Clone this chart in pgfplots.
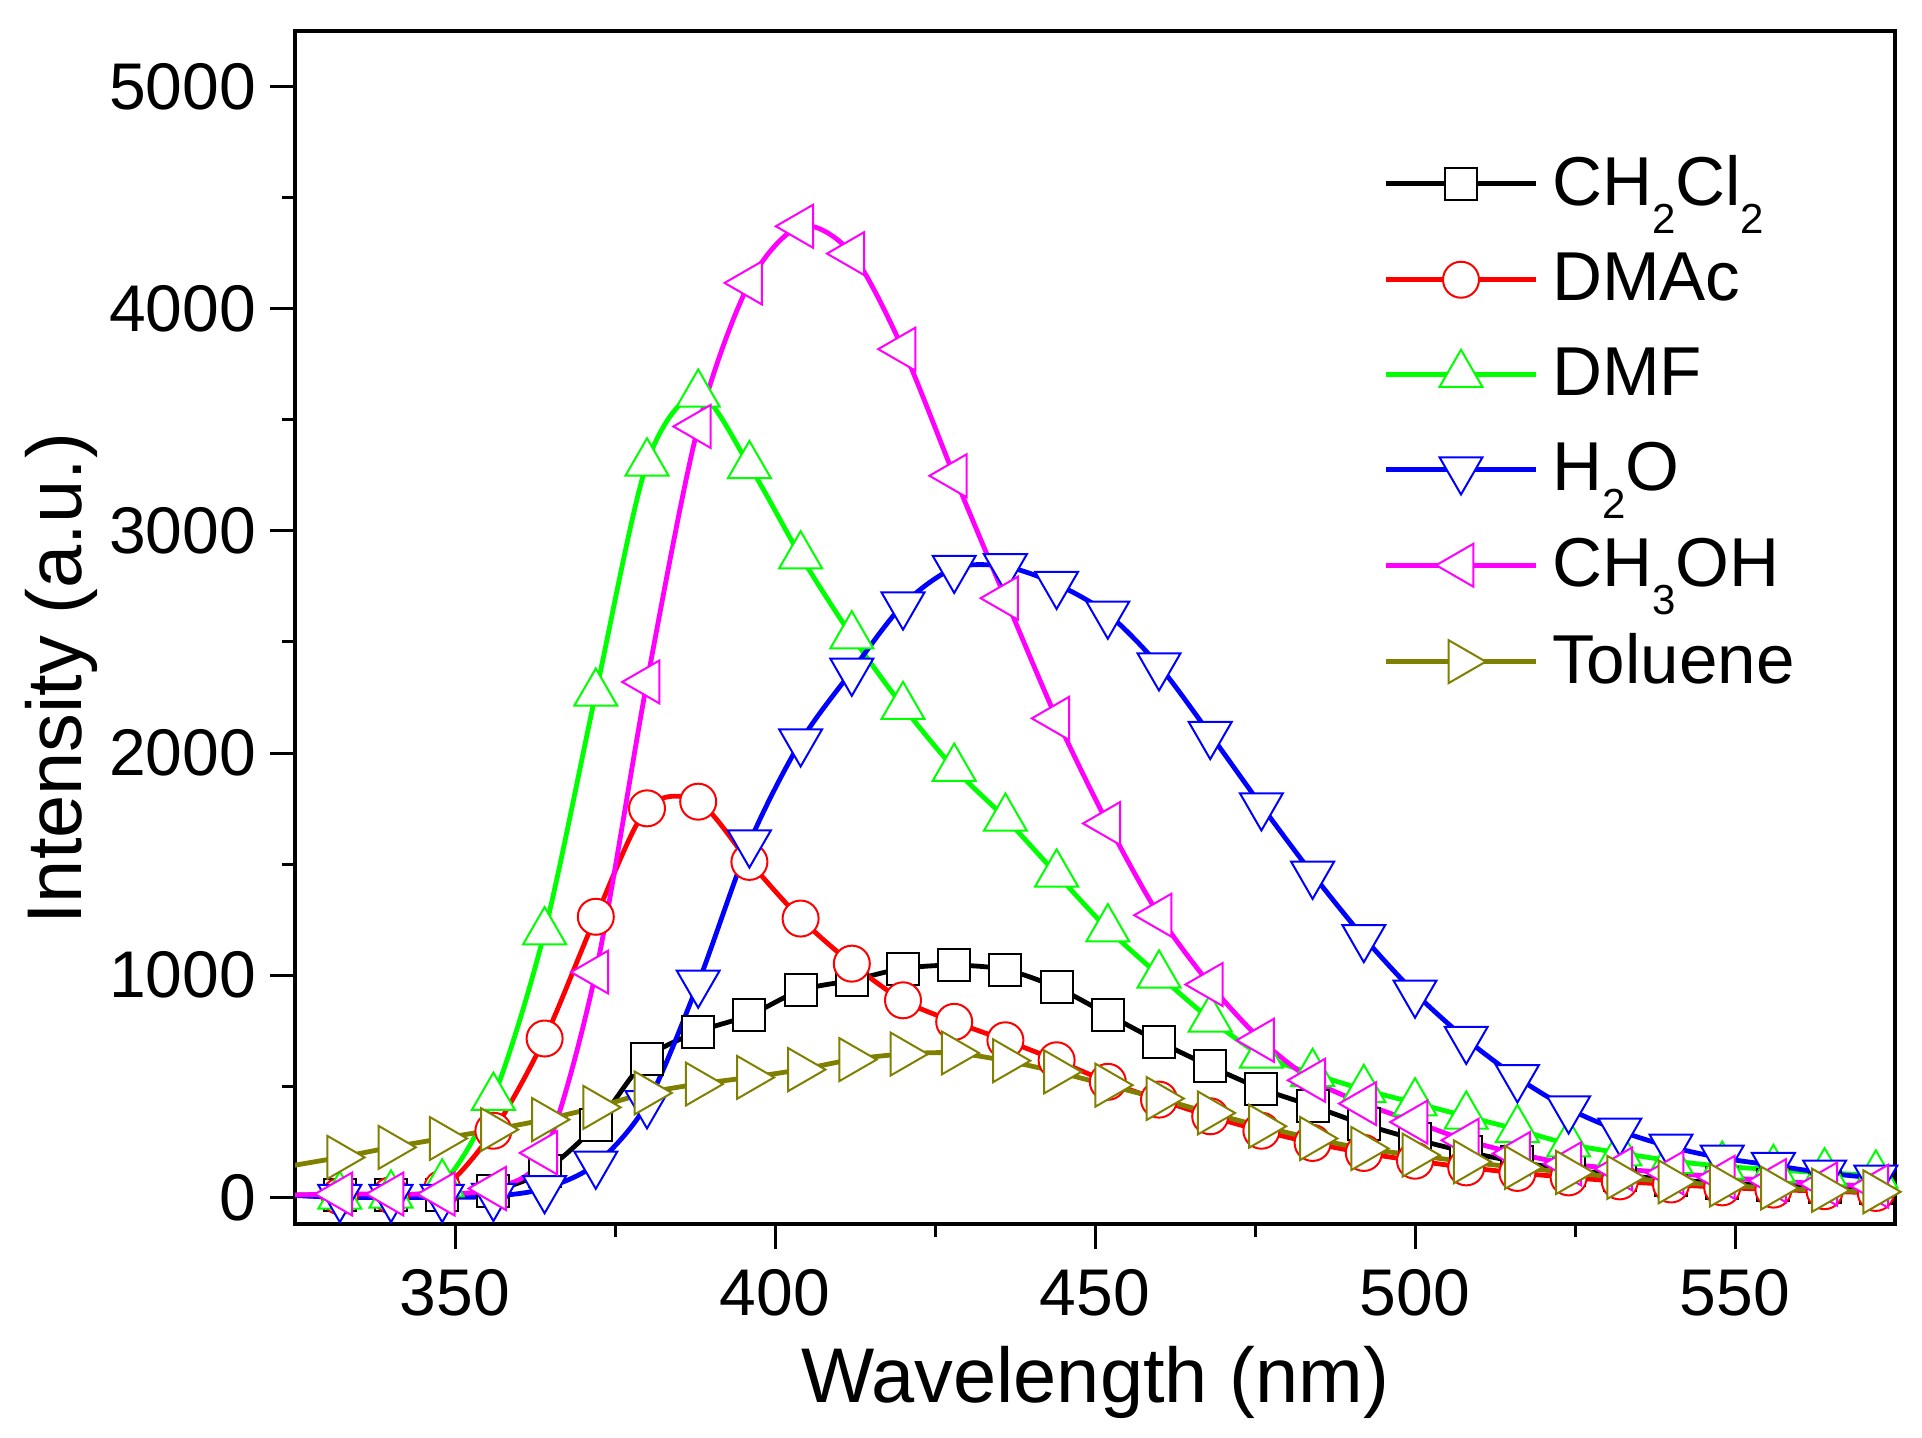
\documentclass[border=0pt]{standalone}
\usepackage{fontspec}
\setmainfont{Liberation Sans}
\usepackage{pgfplots}
\pgfplotsset{compat=1.18}
\usepackage{pgfplotstable}

\definecolor{cblack}{RGB}{0,0,0}
\definecolor{cred}{RGB}{255,0,0}
\definecolor{cgreen}{RGB}{0,255,0}
\definecolor{cblue}{RGB}{0,0,255}
\definecolor{cmag}{RGB}{255,0,255}
\definecolor{colive}{RGB}{128,128,0}

\newcommand{\sub}[1]{\raisebox{-7pt}{\fontsize{10.5}{10.5}\selectfont #1}}

\pgfplotstableread{
x    dcm  dmac dmf  h2o  meoh tol
324  10   10   10   10   10   140
332  10   5    5    0    15   180
340  10   10   10   0    15   225
348  10   40   60   0    15   265
356  30   300  450  5    40   305
364  120  715  1195 40   200  350
372  325  1263 2269 150  1014 405
380  625  1751 3305 422  2320 470
388  745  1781 3615 965  3470 510
396  820  1510 3293 1596 4116 540
404  932  1255 2887 2051 4371 575
412  977  1052 2527 2369 4248 620
420  1030 887  2209 2667 3818 645
428  1045 790  1931 2832 3248 650
436  1025 707  1706 2839 2697 615
444  945  617  1455 2760 2156 565
452  823  520  1208 2626 1683 505
460  701  440  1000 2393 1270 445
468  590  365  802  2084 958  380
476  489  300  640  1763 707  320
484  411  245  557  1455 527  265
492  329  200  485  1170 422  220
500  262  165  425  920  339  190
508  205  135  365  712  257  160
516  160  110  305  539  197  135
524  125  90   240  399  151  112
532  100  72   200  299  128  90
540  80   58   165  227  110  70
548  65   45   140  177  90   55
556  55   35   125  144  75   42
564  45   28   110  110  60   32
572  40   20   100  87   50   25
}\data

\begin{document}
\begin{tikzpicture}
\begin{axis}[
  scale only axis,
  width=400pt, height=298.25pt,
  xmin=325, xmax=575, ymin=-120, ymax=5250,
  axis line style={line width=1pt},
  xtick={350,400,...,550},
  ytick={0,1000,...,5000},
  minor x tick num=1, minor y tick num=1,
  xtick pos=left, ytick pos=left,
  tick align=outside,
  major tick length=6.25pt, minor tick length=3.3pt,
  every tick/.style={black, line width=0.75pt},
  /pgf/number format/assume math mode=true,
  /pgf/number format/1000 sep={},
  scaled y ticks=false,
  tick label style={font=\fontsize{16.5}{16.5}\selectfont},
  xticklabel style={yshift=-1.5pt},
  xlabel={Wavelength (nm)},
  ylabel={Intensity (a.u.)},
  label style={font=\fontsize{19.4}{19.4}\selectfont},
  xlabel style={at={(axis description cs:0.5,-0.1495)}, anchor=base},
  ylabel style={at={(axis description cs:-0.1335,0.457)}, anchor=base, rotate=0},
  every axis plot/.append style={line width=1.2pt, smooth},
  legend cell align=left,
  legend style={draw=none, fill=none, at={(axis description cs:0.68,0.8996)}, anchor=north west,
    font=\fontsize{17.3}{17.3}\selectfont, inner sep=0pt, column sep=2.5pt, row sep=8.3pt,
    nodes={inner sep=1pt}},
  legend image code/.code={\draw[mark repeat=2,mark phase=2,#1] plot coordinates {(0pt,0pt) (18.7pt,0pt) (37.4pt,0pt)};},
]
\addplot[cblack, mark=square*, mark size=4pt, mark options={solid, fill=white, line width=0.5pt}] table[x=x,y=dcm] {\data};
\addlegendentry{CH\sub{2}Cl\sub{2}}
\addplot[cred, mark=*, mark size=4.5pt, mark options={solid, fill=white, line width=0.5pt}] table[x=x,y=dmac] {\data};
\addlegendentry{DMAc}
\addplot[cgreen, mark=triangle*, mark size=6.2pt, mark options={solid, fill=white, line width=0.5pt}] table[x=x,y=dmf] {\data};
\addlegendentry{DMF}
\addplot[cblue, mark=triangle*, mark size=6.2pt, mark options={solid, fill=white, line width=0.5pt, rotate=180}] table[x=x,y=h2o] {\data};
\addlegendentry{H\sub{2}O}
\addplot[cmag, mark=triangle*, mark size=6.2pt, mark options={solid, fill=white, line width=0.5pt, rotate=90}] table[x=x,y=meoh] {\data};
\addlegendentry{CH\sub{3}OH}
\addplot[colive, mark=triangle*, mark size=6.2pt, mark options={solid, fill=white, line width=0.5pt, rotate=-90}] table[x=x,y=tol] {\data};
\addlegendentry{Toluene}
\coordinate (SW) at (rel axis cs:0,0);
\coordinate (NE) at (rel axis cs:1,1);
\end{axis}
\pgfresetboundingbox
\path ([shift={(-73.75pt,-53.25pt)}]SW) rectangle ([shift={(6.75pt,7.75pt)}]NE);
\end{tikzpicture}
\end{document}
